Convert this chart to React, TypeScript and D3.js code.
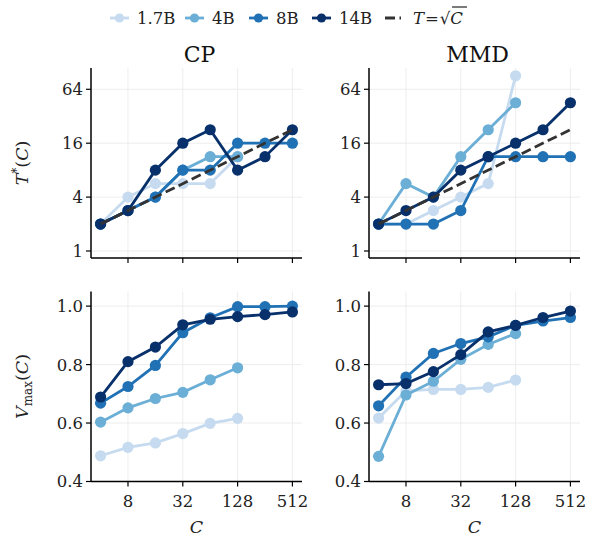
import * as d3 from 'd3';

const C = [4, 8, 16, 32, 64, 128, 256, 512];
const models = ['1.7B', '4B', '8B', '14B'];
const colors = ['#c6dbef', '#6baed6', '#2171b5', '#08306b'];

// T*(C)
const cpT = [
  [2, 4, 5.66, 5.66, 5.66, 11.3],
  [2, 2.83, 4, 8, 11.3, 11.3],
  [2, 2.83, 4, 8, 8, 16, 16, 16],
  [2, 2.83, 8, 16, 22.6, 8, 11.3, 22.6],
];
const mmdT = [
  [2, 2, 2.83, 4, 5.66, 90.5],
  [2, 5.66, 4, 11.3, 22.6, 45.3],
  [2, 2, 2, 2.83, 11.3, 11.3, 11.3, 11.3],
  [2, 2.83, 4, 8, 11.3, 16, 22.6, 45.3],
];
// Vmax(C)
const cpV = [
  [0.488, 0.517, 0.532, 0.564, 0.599, 0.616],
  [0.603, 0.652, 0.684, 0.705, 0.748, 0.789],
  [0.668, 0.725, 0.797, 0.909, 0.96, 0.998, 0.998, 1.0],
  [0.689, 0.81, 0.86, 0.936, 0.955, 0.964, 0.971, 0.98],
];
const mmdV = [
  [0.617, 0.71, 0.715, 0.715, 0.722, 0.747],
  [0.486, 0.696, 0.743, 0.818, 0.869, 0.906],
  [0.659, 0.757, 0.838, 0.872, 0.895, 0.934, 0.949, 0.961],
  [0.731, 0.735, 0.776, 0.834, 0.912, 0.934, 0.961, 0.983],
];
const sqrtC = [2, 22.63]; // T = sqrt(C) at C=4 and C=512

const xTicks = [8, 32, 128, 512];
const tTicks = [1, 4, 16, 64];
const vTicks = [0.4, 0.6, 0.8, 1.0];

const FONT = '"DejaVu Serif", serif';
const TICK = 16.5;
const W = 211;
const H = 190;

const x = d3.scaleLog().base(2).domain([2 ** 1.65, 2 ** 9.35]).range([0, W]);
const yT = d3.scaleLog().base(2).domain([2 ** -0.26, 2 ** 6.79]).range([H, 0]);
const yV = d3.scaleLinear().domain([0.4, 1.05]).range([H, 0]);

type PanelProps = {
  left: number;
  top: number;
  y: any;
  yTicks: number[];
  fmt: (v: number) => string;
  series: number[][];
  xLabels: boolean;
  dashed: boolean;
};

const Panel = ({ left, top, y, yTicks, fmt, series, xLabels, dashed }: PanelProps) => {
  const line = d3.line<number>().x((d, i) => x(C[i])).y(d => y(d));
  return (
    <g transform={`translate(${left},${top})`}>
      {xTicks.map(t => (
        <line key={'gx' + t} x1={x(t)} x2={x(t)} y1={0} y2={H} stroke="#ebebeb" strokeWidth={0.9} />
      ))}
      {yTicks.map(t => (
        <line key={'gy' + t} x1={0} x2={W} y1={y(t)} y2={y(t)} stroke="#ebebeb" strokeWidth={0.9} />
      ))}
      {series.map((s, k) => (
        <g key={k}>
          <path d={line(s) || ''} fill="none" stroke={colors[k]} strokeWidth={2.8} />
          {s.map((v, i) => (
            <circle key={i} cx={x(C[i])} cy={y(v)} r={5.6} fill={colors[k]} />
          ))}
        </g>
      ))}
      {dashed && (
        <line x1={x(C[0])} x2={x(C[C.length - 1])} y1={y(sqrtC[0])} y2={y(sqrtC[1])}
          stroke="#333333" strokeWidth={2.8} strokeDasharray="10,4.5" />
      )}
      <line x1={0} x2={0} y1={0} y2={H} stroke="#000" strokeWidth={1.5} />
      <line x1={0} x2={W} y1={H} y2={H} stroke="#000" strokeWidth={1.5} />
      {xTicks.map(t => (
        <g key={'tx' + t}>
          <line x1={x(t)} x2={x(t)} y1={H} y2={H + 5} stroke="#000" strokeWidth={1.2} />
          {xLabels && (
            <text x={x(t)} y={H + 25} textAnchor="middle" fontSize={TICK} fontFamily={FONT} fill="#222">{t}</text>
          )}
        </g>
      ))}
      {yTicks.map(t => (
        <g key={'ty' + t}>
          <line x1={-5} x2={0} y1={y(t)} y2={y(t)} stroke="#000" strokeWidth={1.2} />
          <text x={-8} y={y(t)} dy="0.36em" textAnchor="end" fontSize={TICK} fontFamily={FONT} fill="#222">{fmt(t)}</text>
        </g>
      ))}
    </g>
  );
};

const Legend = () => {
  const items = [
    { x: 110, label: '1.7B' },
    { x: 185, label: '4B' },
    { x: 249, label: '8B' },
    { x: 312, label: '14B' },
  ];
  const cy = 18;
  return (
    <g>
      {items.map((it, k) => (
        <g key={it.label}>
          <line x1={it.x} x2={it.x + 19} y1={cy} y2={cy} stroke={colors[k]} strokeWidth={2.8} />
          <circle cx={it.x + 9.5} cy={cy} r={4.6} fill={colors[k]} />
          <text x={it.x + 27} y={cy} dy="0.36em" fontSize={16.5} fontFamily={FONT} fill="#222">{models[k]}</text>
        </g>
      ))}
      <line x1={385} x2={401} y1={cy} y2={cy} stroke="#333333" strokeWidth={2.8} strokeDasharray="10,4.5" />
      <text x={413} y={cy} dy="0.36em" fontSize={16.5} fontFamily={FONT} fill="#222">
        <tspan fontStyle="italic">T</tspan>
        <tspan dx={1}>=</tspan>
        <tspan dx={1}>√</tspan>
        <tspan fontStyle="italic">C</tspan>
      </text>
      <line x1={452} x2={467} y1={7} y2={7} stroke="#222" strokeWidth={1.2} />
    </g>
  );
};

export default function App() {
  const L1 = 91;
  const L2 = 369;
  const T1 = 68;
  const T2 = 291.5;
  const tFmt = (v: number) => String(v);
  const vFmt = (v: number) => v.toFixed(1);
  return (
    <svg width={595} height={542} style={{ position: 'absolute', left: 0, top: 0 }}>
      <rect width={595} height={542} fill="#fff" />
      <Legend />
      <text x={L1 + W / 2 + 3} y={T1 - 6} textAnchor="middle" fontSize={22} fontFamily={FONT} fill="#111">CP</text>
      <text x={L2 + W / 2 + 3} y={T1 - 6} textAnchor="middle" fontSize={22} fontFamily={FONT} fill="#111">MMD</text>
      <Panel left={L1} top={T1} y={yT} yTicks={tTicks} fmt={tFmt} series={cpT} xLabels={false} dashed={true} />
      <Panel left={L2} top={T1} y={yT} yTicks={tTicks} fmt={tFmt} series={mmdT} xLabels={false} dashed={true} />
      <Panel left={L1} top={T2} y={yV} yTicks={vTicks} fmt={vFmt} series={cpV} xLabels={true} dashed={false} />
      <Panel left={L2} top={T2} y={yV} yTicks={vTicks} fmt={vFmt} series={mmdV} xLabels={true} dashed={false} />
      <text transform={`translate(28,${T1 + H / 2}) rotate(-90)`} textAnchor="middle" fontSize={17.5} fontFamily={FONT} fill="#222">
        <tspan fontStyle="italic">T</tspan>
        <tspan fontSize={12} dy={-7}>*</tspan>
        <tspan dy={7}>(</tspan>
        <tspan fontStyle="italic">C</tspan>
        <tspan>)</tspan>
      </text>
      <text transform={`translate(28,${T2 + H / 2}) rotate(-90)`} textAnchor="middle" fontSize={17.5} fontFamily={FONT} fill="#222">
        <tspan fontStyle="italic">V</tspan>
        <tspan fontSize={12} dy={4}>max</tspan>
        <tspan dy={-4}>(</tspan>
        <tspan fontStyle="italic">C</tspan>
        <tspan>)</tspan>
      </text>
      <text x={L1 + W / 2} y={T2 + H + 51} textAnchor="middle" fontSize={17.5} fontStyle="italic" fontFamily={FONT} fill="#222">C</text>
      <text x={L2 + W / 2} y={T2 + H + 51} textAnchor="middle" fontSize={17.5} fontStyle="italic" fontFamily={FONT} fill="#222">C</text>
    </svg>
  );
}
